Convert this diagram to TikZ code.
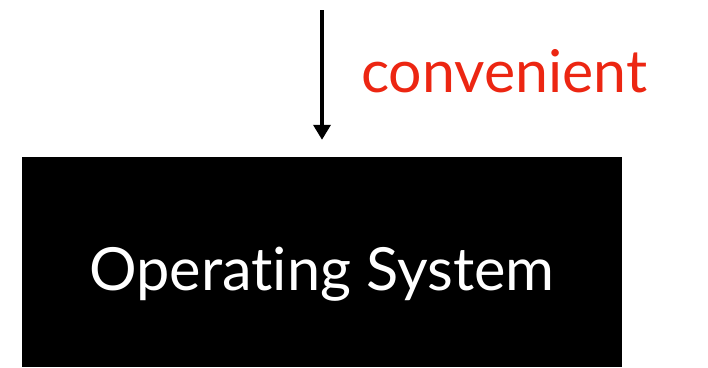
\documentclass[tikz,border=0pt]{standalone}
\usepackage{fontspec}
\setmainfont{Lato}[Ligatures={NoCommon,NoRare,NoDiscretionary}]
\usetikzlibrary{arrows.meta}
\definecolor{labelred}{RGB}{236,38,18}
\tikzset{
  osbox/.style={fill=black, draw=none, minimum width=600pt, minimum height=210pt, inner sep=0pt},
  flow/.style={line width=3.5pt, -{Triangle[width=17pt,length=15pt]}},
  redlabel/.style={text=labelred, font=\fontsize{59}{64}\selectfont, inner sep=0pt}
}
\begin{document}
\begin{tikzpicture}[x=1pt,y=1pt]
  \useasboundingbox (0,0) rectangle (708,-367);
  \node[osbox] (os) at (322,-262) {};
  \node[text=white, font=\fontsize{59.5}{64}\selectfont, inner sep=0pt, anchor=base] (ostext) at (322,-290) {Operating System};
  \coordinate (src) at (322,-10);
  \draw[flow, shorten >=17pt] (src) -- (os.north);
  \node[redlabel, anchor=base west] (conv) at (361,-92) {convenient};
\end{tikzpicture}
\end{document}
